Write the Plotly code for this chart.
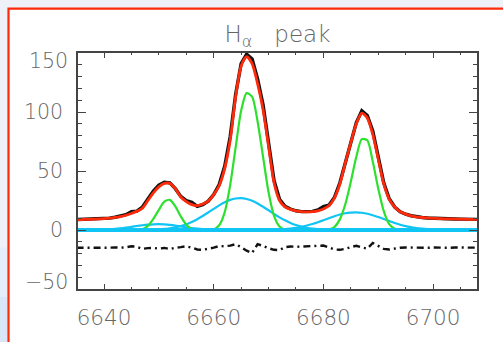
import plotly.graph_objects as go

# ---------------- data ----------------
WAVELENGTH = list(range(6635, 6709))  # 1 A grid, 6635 .. 6708

# observed spectrum (black)
DATA = [8.9, 9.0, 9.1, 9.3, 9.5, 9.7, 10.1, 10.8, 11.6, 13.0,
        15.5, 16.0, 19.5, 26.5, 33.0, 38.0, 40.5, 40.0, 35.0, 28.5,
        25.0, 23.5, 20.0, 21.5, 24.5, 30.0, 38.5, 54.0, 79.0, 115.0,
        141.0, 149.0, 145.0, 128.0, 106.0, 74.0, 42.0, 26.0, 20.0, 17.8,
        16.3, 15.6, 15.5, 15.8, 17.0, 19.8, 21.0, 27.5, 40.0, 57.5,
        75.0, 91.0, 101.0, 97.0, 84.0, 62.0, 40.0, 26.5, 19.5, 15.5,
        13.4, 12.1, 11.2, 10.6, 10.2, 9.9, 9.7, 9.5, 9.4, 9.3,
        9.2, 9.1, 9.0, 9.0]

# total fitted model (red)
MODEL = [8.8, 8.9, 9.0, 9.2, 9.4, 9.6, 10.0, 10.6, 11.4, 12.5,
         14.0, 15.8, 18.5, 25.0, 31.5, 36.5, 39.5, 39.5, 35.0, 28.0,
         24.0, 21.5, 20.7, 22.0, 24.5, 30.0, 37.5, 52.0, 76.0, 113.0,
         139.0, 147.0, 141.0, 124.0, 102.0, 71.0, 40.0, 25.0, 19.5, 17.5,
         16.3, 15.6, 15.3, 15.5, 16.2, 17.8, 20.5, 27.0, 39.0, 57.0,
         74.0, 90.0, 99.0, 95.0, 81.0, 60.0, 39.0, 26.0, 19.5, 15.5,
         13.5, 12.0, 11.2, 10.6, 10.2, 9.9, 9.7, 9.5, 9.4, 9.3,
         9.2, 9.1, 9.0, 9.0]

# narrow components (green)
NARROW_1 = [0, 0, 0, 0, 0, 0, 0, 0, 0, 0,
            0, 0, 0.5, 3.5, 9.5, 17.0, 24.0, 25.5, 20.0, 11.5,
            4.5, 0.8, 0, 0, 0, 0, 0, 0, 0, 0,
            0, 0, 0, 0, 0, 0, 0, 0, 0, 0,
            0, 0, 0, 0, 0, 0, 0, 0, 0, 0,
            0, 0, 0, 0, 0, 0, 0, 0, 0, 0,
            0, 0, 0, 0, 0, 0, 0, 0, 0, 0,
            0, 0, 0, 0]
NARROW_2 = [0, 0, 0, 0, 0, 0, 0, 0, 0, 0,
            0, 0, 0, 0, 0, 0, 0, 0, 0, 0,
            0, 0, 0, 0, 0, 0.5, 4.0, 15.0, 38.0, 70.0,
            101.0, 116.0, 113.0, 92.0, 62.0, 32.0, 12.0, 3.0, 0.3, 0,
            0, 0, 0, 0, 0, 0, 0, 0, 0, 0,
            0, 0, 0, 0, 0, 0, 0, 0, 0, 0,
            0, 0, 0, 0, 0, 0, 0, 0, 0, 0,
            0, 0, 0, 0]
NARROW_3 = [0, 0, 0, 0, 0, 0, 0, 0, 0, 0,
            0, 0, 0, 0, 0, 0, 0, 0, 0, 0,
            0, 0, 0, 0, 0, 0, 0, 0, 0, 0,
            0, 0, 0, 0, 0, 0, 0, 0, 0, 0,
            0, 0, 0, 0, 0, 0, 0.3, 2.5, 9.0, 22.0,
            41.0, 62.0, 77.0, 76.0, 58.0, 35.0, 16.0, 5.0, 1.0, 0,
            0, 0, 0, 0, 0, 0, 0, 0, 0, 0,
            0, 0, 0, 0]

# broad components (cyan)
BROAD_1 = [0.02, 0.04, 0.07, 0.12, 0.2, 0.32, 0.55, 0.9, 1.4, 2.0,
           2.7, 3.4, 4.0, 4.5, 4.8, 4.9, 4.7, 4.3, 3.7, 3.0,
           2.3, 1.6, 1.1, 0.7, 0.4, 0.2, 0.1, 0.05, 0, 0,
           0, 0, 0, 0, 0, 0, 0, 0, 0, 0,
           0, 0, 0, 0, 0, 0, 0, 0, 0, 0,
           0, 0, 0, 0, 0, 0, 0, 0, 0, 0,
           0, 0, 0, 0, 0, 0, 0, 0, 0, 0,
           0, 0, 0, 0]
BROAD_2 = [0, 0, 0, 0, 0, 0, 0, 0, 0, 0.02,
           0.04, 0.06, 0.1, 0.18, 0.3, 0.55, 0.9, 1.5, 2.3, 3.4,
           4.9, 6.8, 9.1, 11.9, 14.8, 17.9, 20.9, 23.5, 25.5, 26.7,
           27.0, 26.3, 24.8, 22.5, 19.7, 16.7, 13.6, 10.7, 8.2, 6.0,
           4.2, 2.9, 1.9, 1.2, 0.75, 0.45, 0.28, 0.15, 0.08, 0.04,
           0.02, 0, 0, 0, 0, 0, 0, 0, 0, 0,
           0, 0, 0, 0, 0, 0, 0, 0, 0, 0,
           0, 0, 0, 0]
BROAD_3 = [0, 0, 0, 0, 0, 0, 0, 0, 0, 0,
           0, 0, 0, 0, 0, 0, 0, 0, 0, 0,
           0, 0, 0, 0, 0, 0, 0, 0, 0, 0,
           0, 0, 0, 0.05, 0.1, 0.18, 0.3, 0.5, 0.8, 1.3,
           1.9, 2.7, 3.8, 5.1, 6.6, 8.3, 10.0, 11.6, 13.1, 14.2,
           14.8, 15.0, 14.6, 13.8, 12.5, 11.0, 9.3, 7.6, 6.0, 4.5,
           3.3, 2.4, 1.6, 1.1, 0.7, 0.4, 0.25, 0.15, 0.08, 0.04,
           0.02, 0, 0, 0]

# residuals (black dash-dot), shown with an offset
RESIDUAL = [-15.0, -15.1, -14.9, -15.0, -15.2, -14.9, -15.0, -14.7, -15.0, -14.6,
            -13.8, -14.2, -16.0, -15.4, -15.2, -15.8, -15.2, -16.2, -15.0, -14.5,
            -13.8, -15.0, -16.5, -16.8, -16.2, -15.0, -13.6, -13.8, -13.2, -12.0,
            -14.5, -17.5, -19.5, -12.0, -13.5, -15.5, -16.8, -17.0, -14.5, -14.0,
            -14.2, -14.0, -13.9, -14.2, -14.0, -13.2, -14.8, -16.5, -16.8, -16.0,
            -14.5, -13.4, -14.8, -15.8, -11.0, -13.2, -16.0, -16.5, -15.5, -15.0,
            -14.8, -15.0, -14.7, -15.0, -15.1, -14.8, -15.0, -14.9, -15.1, -14.8,
            -15.0, -15.2, -15.0, -15.0]

BASELINE = [0.0] * len(WAVELENGTH)

X_RANGE = [6635.26, 6708.0]
Y_RANGE = [-50, 150]
X_TICKS = [6640, 6660, 6680, 6700]
Y_TICKS = [-50, 0, 50, 100, 150]
Y_TICK_TEXT = ["\u221250", "0", "50", "100", "150"]
TITLE = "H<sub>\u03b1</sub>\u00a0\u00a0\u00a0peak"

# ---------------- styles ----------------
RED = "#ff2a0a"
GREEN = "#2ee02e"
CYAN = "#10c4f4"
BLACK = "#111111"
AXIS = "#444444"
TXT = "#666666"
FONT = "DejaVu Sans"

fig = go.Figure()


def add(y, color, width, shape="spline", dash="solid"):
    fig.add_trace(go.Scatter(
        x=WAVELENGTH, y=y, mode="lines",
        line=dict(color=color, width=width, shape=shape, dash=dash,
                  smoothing=0.7 if shape == "spline" else None),
        hoverinfo="skip", showlegend=False))


for comp in (BROAD_1, BROAD_2, BROAD_3):
    add(comp, CYAN, 2.2)
for comp in (NARROW_1, NARROW_2, NARROW_3):
    add(comp, GREEN, 2.2)
add(BASELINE, CYAN, 4, shape="linear")
add(RESIDUAL, BLACK, 2.4, shape="linear", dash="7px,4px,2px,4px")
add(DATA, BLACK, 3.4, shape="linear")
add(MODEL, RED, 2.8)

# interior y tick labels through the axis, end ones nudged inward like IDL
inner = [(v, t) for v, t in zip(Y_TICKS, Y_TICK_TEXT) if Y_RANGE[0] < v < Y_RANGE[1]]
ends = [(v, t) for v, t in zip(Y_TICKS, Y_TICK_TEXT) if v in Y_RANGE]

YFONT = dict(family=FONT, size=20.5, color=TXT, weight=300)
XFONT = dict(family=FONT, size=21.5, color=TXT, weight=300)

annotations = []
for v, t in ends:
    annotations.append(dict(
        x=0, xref="paper", y=v, yref="y", text=t, showarrow=False,
        xanchor="right", yanchor="middle", xshift=-8,
        yshift=-8 if v == Y_RANGE[1] else 7, font=YFONT))

# page decoration: light page, white panel with red frame
L, T, W, H = 78, 53, 399, 239
def px_x(p):
    return (p - L) / W
def px_y(p):
    return (T + H - p) / H

shapes = [
    dict(type="rect", xref="paper", yref="paper", layer="below",
         x0=px_x(-5), x1=px_x(7.5), y0=px_y(380), y1=px_y(250),
         fillcolor="#e4edf9", line=dict(width=0)),
    dict(type="rect", xref="paper", yref="paper", layer="below",
         x0=px_x(-5), x1=px_x(7.5), y0=px_y(380), y1=px_y(300),
         fillcolor="#d8e6f8", line=dict(width=0)),
    dict(type="rect", xref="paper", yref="paper", layer="below",
         x0=px_x(8.5), x1=px_x(530), y0=px_y(380), y1=px_y(8),
         fillcolor="white", line=dict(color=RED, width=2.2)),
]

fig.update_layout(
    width=503, height=342,
    margin=dict(l=L, r=503 - L - W, t=T, b=342 - T - H),
    paper_bgcolor="#eef2f8", plot_bgcolor="white",
    title=dict(text=TITLE, x=0.5, xref="paper", xanchor="center",
               y=1 - 34 / 342, yref="container", yanchor="middle",
               font=dict(family=FONT, size=23, color=TXT, weight=300)),
    annotations=annotations, shapes=shapes,
    showlegend=False,
)

fig.update_xaxes(
    range=X_RANGE, tickvals=X_TICKS, ticktext=[str(v) for v in X_TICKS],
    showgrid=False, zeroline=False,
    showline=True, linecolor=AXIS, linewidth=1.6, mirror="ticks",
    ticks="inside", ticklen=5, tickwidth=1.4, tickcolor=AXIS,
    minor=dict(dtick=5, ticks="inside", ticklen=2.5, tickwidth=1.3,
               tickcolor=AXIS, showgrid=False),
    tickfont=XFONT, ticklabelstandoff=8,
)
fig.update_yaxes(
    range=Y_RANGE, tickvals=[v for v, _ in inner], ticktext=[t for _, t in inner],
    showgrid=False, zeroline=False,
    showline=True, linecolor=AXIS, linewidth=1.6, mirror="ticks",
    ticks="inside", ticklen=8, tickwidth=1.4, tickcolor=AXIS,
    minor=dict(dtick=10, ticks="inside", ticklen=4, tickwidth=1.3,
               tickcolor=AXIS, showgrid=False),
    tickfont=YFONT, ticklabelstandoff=9,
)

fig.write_html("out.html")
